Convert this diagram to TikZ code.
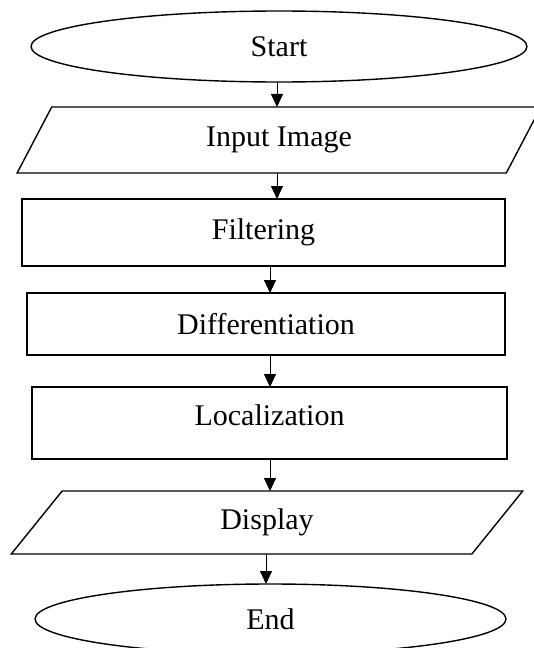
\documentclass[tikz,border=0pt]{standalone}
\usepackage{fontspec}
\setmainfont{Liberation Serif}
\usetikzlibrary{shapes.geometric,arrows.meta}
\begin{document}
\begin{tikzpicture}[x=1pt,y=-1pt,
    box/.style={draw,line width=1.4pt,outer sep=0pt,inner sep=0pt,font=\fontsize{30}{36}\selectfont},
    term/.style={box,ellipse},
    io/.style={box,trapezium,trapezium left angle=67,trapezium right angle=113,trapezium stretches=true},
    proc/.style={box,rectangle},
    arr/.style={-{Triangle[length=13pt,width=12pt]},line width=0.9pt}]
    \useasboundingbox (0,0) rectangle (534,648);
    % arrow columns
    \coordinate (c1) at (277,0);
    \coordinate (c2) at (270,0);
    \coordinate (c3) at (266,0);
    \node[term,minimum width=496pt,minimum height=71pt] (start) at (279,46.5) {Start};
    \node[io,minimum width=524pt,minimum height=66pt] (input) at (279,140) {Input Image};
    \node[proc,minimum width=483pt,minimum height=67pt] (filter) at (263.5,232.5) {Filtering};
    \node[proc,minimum width=478pt,minimum height=62pt] (diff) at (266,324) {Differentiation};
    \node[proc,minimum width=475pt,minimum height=72pt,text depth=16pt] (local) at (269.5,423) {Localization};
    \node[io,minimum width=512pt,minimum height=63pt] (display) at (267,522.5) {Display};
    \node[term,minimum width=471pt,minimum height=70pt] (end) at (270.5,619) {End};
    \draw[arr] (start.south -| c1) -- (input.north -| c1);
    \draw[arr] (input.south -| c1) -- (filter.north -| c1);
    \draw[arr] (filter.south -| c2) -- (diff.north -| c2);
    \draw[arr] (diff.south -| c2) -- (local.north -| c2);
    \draw[arr] (local.south -| c2) -- (display.north -| c2);
    \draw[arr] (display.south -| c3) -- (end.north -| c3);
\end{tikzpicture}
\end{document}
